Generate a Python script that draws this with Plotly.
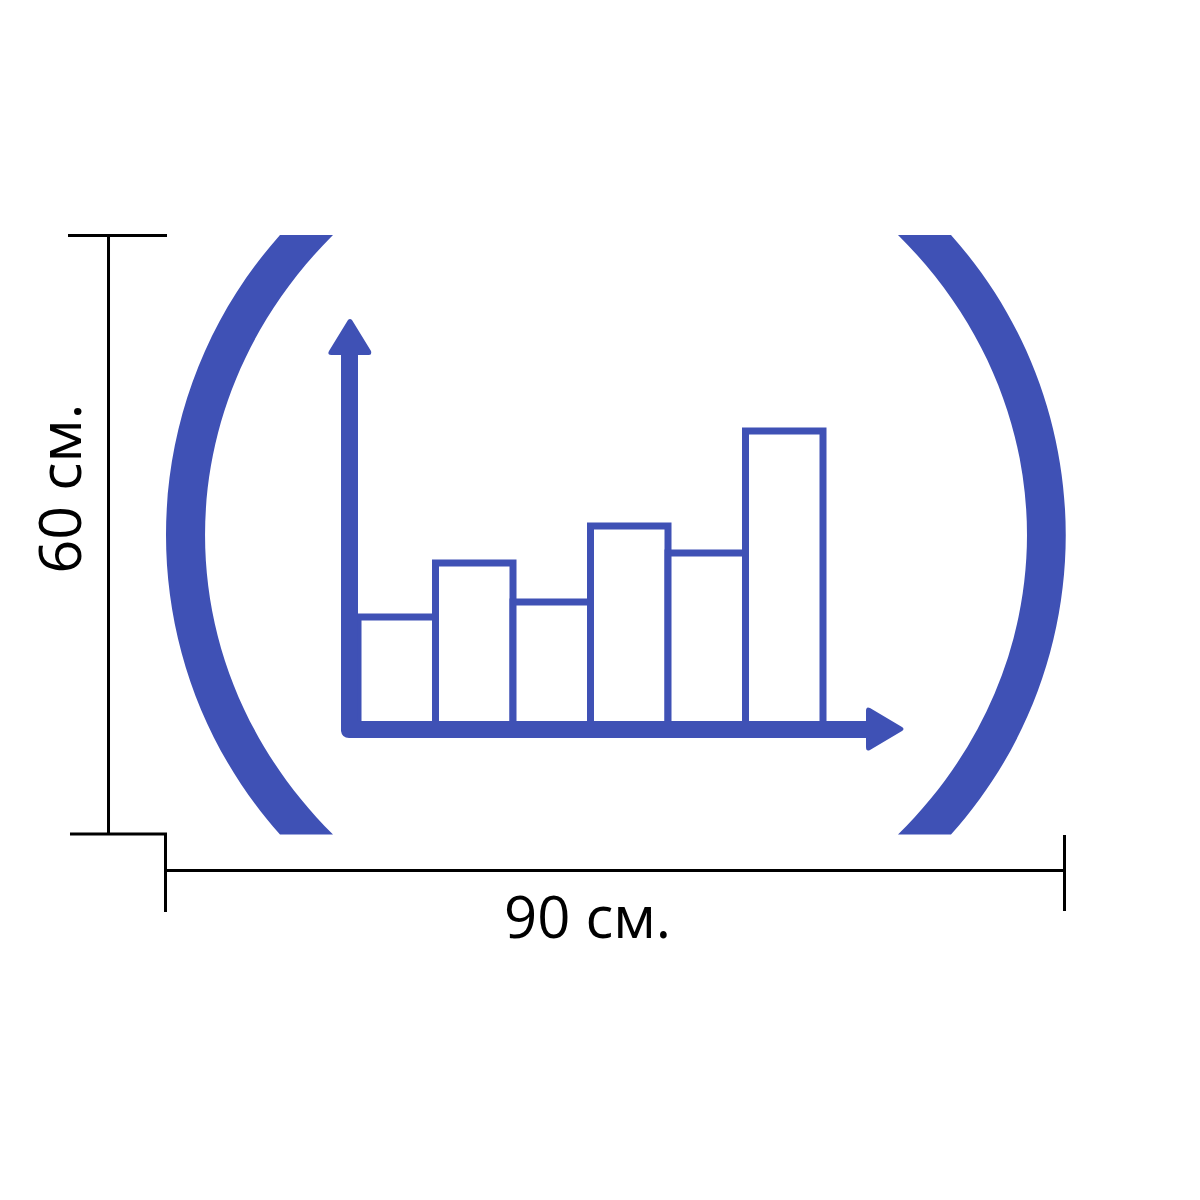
import plotly.graph_objects as go

bar_categories = [1, 2, 3, 4, 5, 6]
bar_heights = [108, 162, 123, 199, 172, 294]
width_label = "90 см."
height_label = "60 см."

BLUE = "#3F51B5"
BLACK = "#000000"
SIZE = 1200.0


def fx(x):
    return round(x / SIZE, 5)


def fy(y):
    return round(1 - y / SIZE, 5)


def pt(x, y):
    return f"{fx(x)},{fy(y)}"


def filled(path):
    return dict(type="path", xref="paper", yref="paper", path=path,
                fillcolor=BLUE, line=dict(color=BLUE, width=0), layer="above")


def line(x0, y0, x1, y1):
    return dict(type="line", xref="paper", yref="paper",
                x0=fx(x0), y0=fy(y0), x1=fx(x1), y1=fy(y1),
                line=dict(color=BLACK, width=3), layer="above")


def bracket(x_outer, c_outer, x_inner, c_inner):
    return filled(
        f"M {pt(x_outer, 235)} C {pt(c_outer, 406)} {pt(c_outer, 664)} {pt(x_outer, 834.5)} "
        f"L {pt(x_inner, 834.5)} C {pt(c_inner, 665)} {pt(c_inner, 405)} {pt(x_inner, 235)} Z"
    )


shapes = [
    bracket(280, 128, 333, 162.4),
    bracket(951, 1104, 898, 1070),
    # vertical axis with arrow head
    filled(
        f"M {pt(341, 355)} L {pt(331, 355)} Q {pt(327, 355)} {pt(329, 351)} "
        f"L {pt(348, 320)} Q {pt(350, 318)} {pt(352, 320)} L {pt(371, 351)} "
        f"Q {pt(372, 355)} {pt(369, 355)} L {pt(358, 355)} L {pt(358, 730)} "
        f"L {pt(341, 730)} Z"
    ),
    # horizontal axis with arrow head
    filled(
        f"M {pt(350, 721)} L {pt(866, 721)} L {pt(866, 711)} Q {pt(866, 706)} {pt(870, 708)} "
        f"L {pt(902, 727)} Q {pt(905, 729)} {pt(902, 731)} L {pt(870, 750)} "
        f"Q {pt(866, 752)} {pt(866, 747)} L {pt(866, 738)} L {pt(349, 738)} "
        f"Q {pt(342, 738)} {pt(341, 731)} L {pt(341, 721)} Z"
    ),
    # dimension lines
    line(108.5, 235, 108.5, 834),
    line(68, 235.5, 167, 235.5),
    line(70, 834, 167, 834),
    line(165.5, 833, 165.5, 912),
    line(165.5, 870.5, 1064.5, 870.5),
    line(1064.5, 835, 1064.5, 911),
]

fig = go.Figure(
    go.Bar(
        x=bar_categories,
        y=bar_heights,
        width=1,
        marker=dict(color="#FFFFFF", line=dict(color=BLUE, width=7)),
        hoverinfo="skip",
    )
)

fig.update_layout(
    width=1200,
    height=1200,
    margin=dict(l=0, r=0, t=0, b=0),
    paper_bgcolor="#FFFFFF",
    plot_bgcolor="#FFFFFF",
    showlegend=False,
    shapes=shapes,
    xaxis=dict(visible=False, range=[0.5 - 358 / 77.5, 0.5 + 842 / 77.5]),
    yaxis=dict(visible=False, range=[-475, 725]),
    annotations=[
        dict(xref="paper", yref="paper", x=fx(587), y=fy(916), text=width_label,
             showarrow=False, xanchor="center", yanchor="middle",
             font=dict(family="Open Sans", size=58, color=BLACK)),
        dict(xref="paper", yref="paper", x=fx(57.5), y=fy(489), text=height_label,
             showarrow=False, xanchor="center", yanchor="middle", textangle=-90,
             font=dict(family="Open Sans", size=59, color=BLACK)),
    ],
)

fig.write_html(
    "out.html",
    config={"displayModeBar": False},
    post_script="document.body.style.margin='0';document.body.style.overflow='hidden';",
)
